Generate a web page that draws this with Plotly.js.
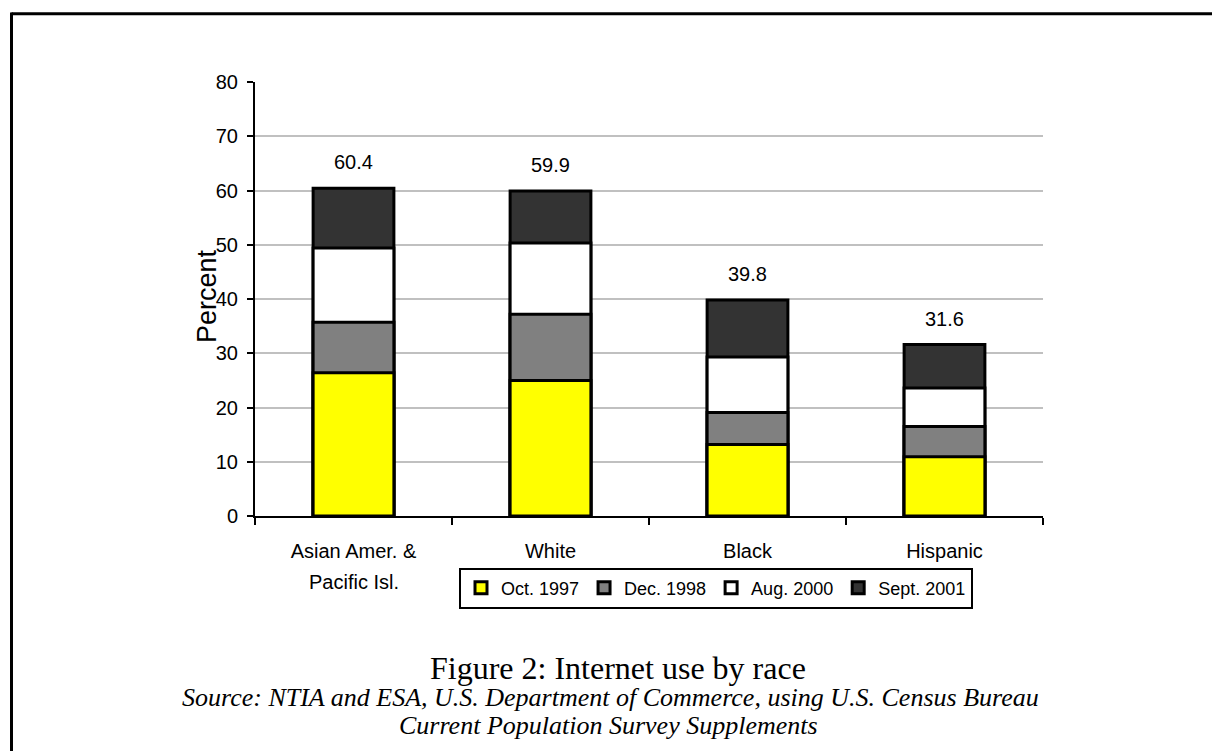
<!DOCTYPE html>
<html>
<head>
<meta charset="utf-8">
<script src="https://cdn.plot.ly/plotly-3.0.1.min.js"></script>
<style>
  html, body { margin: 0; padding: 0; background: #fff; }
  #chart { width: 1212px; height: 751px; }
</style>
</head>
<body>
<div id="chart"></div>
<script>
// Internet use by race, percent of persons, four survey dates
const categories = ['Asian Amer. & Pacific Isl.', 'White', 'Black', 'Hispanic'];
const tickLinesTop = ['Asian Amer. &', 'White', 'Black', 'Hispanic'];
const tickLinesBottom = ['Pacific Isl.', '', '', ''];

const seriesNames = ['Oct. 1997', 'Dec. 1998', 'Aug. 2000', 'Sept. 2001'];
const oct1997 = [26.4, 25.0, 13.2, 10.9];
const dec1998 = [35.7, 37.2, 19.1, 16.5];
const aug2000 = [49.4, 50.3, 29.3, 23.6];
const sept2001 = [60.4, 59.9, 39.8, 31.6];
const seriesColors = ['#ffff00', '#808080', '#ffffff', '#333333'];

const yTicks = [0, 10, 20, 30, 40, 50, 60, 70, 80];

// plot-area geometry (pixels)
const W = 1212, H = 751;
const M = { l: 255, r: 169, t: 82, b: 235 };
const plotW = W - M.l - M.r, plotH = H - M.t - M.b;
const px = x => (x - M.l) / plotW;          // page x -> paper x
const py = y => (H - M.b - y) / plotH;      // page y -> paper y

const sans = '"Liberation Sans", Arial, sans-serif';
const serif = '"Liberation Serif", "Times New Roman", serif';

// latest survey drawn first so earlier surveys sit in front
const seriesValues = [oct1997, dec1998, aug2000, sept2001];
const traces = [];
for (let i = seriesNames.length - 1; i >= 0; i--) {
  traces.push({
    type: 'bar',
    name: seriesNames[i],
    x: categories,
    y: seriesValues[i],
    width: 0.41,
    marker: { color: seriesColors[i], line: { color: '#000', width: 3 } },
    hoverinfo: 'name+y'
  });
}

const annotations = [];
// totals above each bar
categories.forEach((c, i) => {
  annotations.push({
    x: c, y: sept2001[i], xref: 'x', yref: 'y',
    text: sept2001[i].toFixed(1), showarrow: false,
    yanchor: 'bottom', yshift: 13,
    font: { family: sans, size: 20, color: '#000' }
  });
});
// second line of category labels
categories.forEach((c, i) => {
  if (tickLinesBottom[i]) {
    annotations.push({
      x: c, y: py(582), xref: 'x', yref: 'paper',
      text: tickLinesBottom[i], showarrow: false, yanchor: 'middle',
      font: { family: sans, size: 20, color: '#000' }
    });
  }
});
// axis title
annotations.push({
  x: px(207), y: py(296), xref: 'paper', yref: 'paper',
  text: 'Percent', textangle: -90, showarrow: false,
  xanchor: 'center', yanchor: 'middle',
  font: { family: sans, size: 27, color: '#000' }
});
// caption
annotations.push({
  x: px(618), y: py(668), xref: 'paper', yref: 'paper',
  text: 'Figure 2: Internet use by race', showarrow: false,
  xanchor: 'center', yanchor: 'middle',
  font: { family: serif, size: 32, color: '#000' }
});
annotations.push({
  x: px(610), y: py(697), xref: 'paper', yref: 'paper',
  text: '<i>Source: NTIA and ESA, U.S. Department of Commerce, using U.S. Census Bureau</i>',
  showarrow: false, xanchor: 'center', yanchor: 'middle',
  font: { family: serif, size: 26, color: '#000' }
});
annotations.push({
  x: px(608), y: py(725), xref: 'paper', yref: 'paper',
  text: '<i>Current Population Survey Supplements</i>',
  showarrow: false, xanchor: 'center', yanchor: 'middle',
  font: { family: serif, size: 26, color: '#000' }
});

// page frame (top and left edges)
const shapes = [
  { type: 'line', xref: 'paper', yref: 'paper',
    x0: px(11.5), x1: px(1230), y0: py(13.8), y1: py(13.8),
    line: { color: '#000', width: 3 } },
  { type: 'line', xref: 'paper', yref: 'paper',
    x0: px(11.5), x1: px(11.5), y0: py(12.5), y1: py(780),
    line: { color: '#000', width: 3 } }
];

const layout = {
  width: W, height: H,
  margin: M,
  paper_bgcolor: '#fff', plot_bgcolor: '#fff',
  barmode: 'overlay',
  showlegend: true,
  font: { family: sans, size: 20, color: '#000' },
  xaxis: {
    type: 'category',
    tickmode: 'array', tickvals: categories, ticktext: tickLinesTop,
    tickson: 'boundaries', ticks: 'outside', ticklen: 7, tickwidth: 2, tickcolor: '#000',
    ticklabelstandoff: 16,
    showline: true, linecolor: '#000', linewidth: 2,
    showgrid: false, zeroline: false,
    tickfont: { family: sans, size: 20, color: '#000' },
    range: [-0.5, 3.5]
  },
  yaxis: {
    range: [0, 80], tickmode: 'array', tickvals: yTicks,
    ticks: 'outside', ticklen: 6, tickwidth: 2, tickcolor: '#000',
    ticklabelstandoff: 5,
    showline: true, linecolor: '#000', linewidth: 2,
    showgrid: true, gridcolor: '#c0c0c0', gridwidth: 2,
    zeroline: false,
    tickfont: { family: sans, size: 20, color: '#000' }
  },
  legend: {
    orientation: 'h', traceorder: 'reversed',
    x: px(716), y: py(588), xanchor: 'center', yanchor: 'middle',
    bordercolor: '#000', borderwidth: 2, bgcolor: '#fff',
    font: { family: sans, size: 18, color: '#000' },
    itemwidth: 30
  },
  annotations: annotations,
  shapes: shapes
};

Plotly.newPlot('chart', traces, layout, { displayModeBar: false, staticPlot: true });
</script>
</body>
</html>
